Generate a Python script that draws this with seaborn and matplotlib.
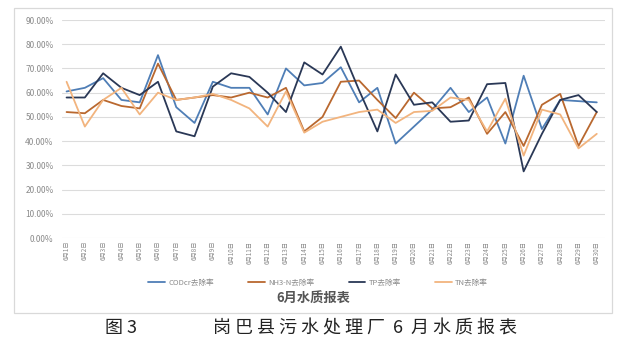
import matplotlib
matplotlib.use("Agg")
import matplotlib.pyplot as plt
import seaborn as sns
import pandas as pd
import numpy as np

days = [f"6月{i}日" for i in range(1, 31)]

cod = [60.5, 62, 66, 57, 56, 75.5, 54, 47.5, 64.5, 62, 62, 51, 70, 63, 64, 70.5, 56, 62, 39, 46, 53, 62, 52, 58, 39, 67, 45, 57, 56.5, 56]
nh3 = [52, 51.5, 57, 54.5, 53.5, 72, 57, 58, 59, 58, 60, 58, 62, 44, 50, 64.5, 65, 57, 49.5, 60, 53.5, 54, 58, 43, 52, 38, 55, 59.5, 38, 52]
tp = [58, 58, 68, 62, 59, 64.5, 44, 42, 62.5, 68, 66.5, 60, 52, 72.5, 67.5, 79, 61, 44, 67.5, 55, 56, 48, 48.5, 63.5, 64, 27.5, 43, 57, 59, 52]
tn = [64.5, 46, 57, 62, 51, 60, 57, 58, 59.5, 57, 53.5, 46, 60.5, 43.5, 48, 50, 52, 53, 47.5, 52, 52.5, 58, 57, 44, 57.5, 34, 53, 51, 37, 43]

series_names = ["CODcr去除率", "NH3-N去除率", "TP去除率", "TN去除率"]
colors = ["#4F7EB6", "#B9682F", "#2A3856", "#F2B47E"]
yticks = [0, 10, 20, 30, 40, 50, 60, 70, 80, 90]

df = pd.concat([
    pd.DataFrame({"day": np.arange(30), "label": days, "value": vals, "series": name})
    for name, vals in zip(series_names, [cod, nh3, tp, tn])
], ignore_index=True)

sns.set_theme(style="white")
plt.rcParams["font.family"] = ["Noto Sans CJK SC", "DejaVu Sans"]

fig = plt.figure(figsize=(6.21, 3.54), dpi=100)
ax = fig.add_axes([62/621, 1-238/354, (605-62)/621, (238-20)/354])

sns.lineplot(data=df, x="day", y="value", hue="series", hue_order=series_names,
             palette=colors, sort=False, linewidth=1.3, ax=ax, legend=True)

ax.set_xlim(-0.25, 29.45)
ax.set_ylim(0, 90)
ax.set_yticks(yticks)
ax.set_yticklabels([f"{v:.2f}%" for v in yticks], fontsize=6, color="#8a8a8a")
ax.set_xticks(np.arange(30))
ax.set_xticklabels(days, rotation=90, fontsize=4.5, color="#8a8a8a")
ax.tick_params(axis="both", length=0, pad=2)
ax.tick_params(axis="y", pad=6)
for yv in yticks:
    ax.axhline(yv, color="#dcdcdc", lw=0.8, zorder=0)
for s in ax.spines.values():
    s.set_visible(False)
ax.set_xlabel("")
ax.set_ylabel("")

h, l = ax.get_legend_handles_labels()
ax.legend_.remove()
leg = fig.legend(h, l, loc="center", bbox_to_anchor=(318/621, 1-282.5/354), ncol=4,
                 frameon=False, fontsize=5.5, handlelength=2.2, columnspacing=4.5,
                 handletextpad=0.4)
for t in leg.get_texts():
    t.set_color("#8a8a8a")

fig.text(313/621, 1-299/354, "6月水质报表", ha="center", va="center",
         fontsize=9.5, fontweight="bold", color="#555555")

# chart frame
frame = plt.Rectangle((14/621, 1-313/354), (612-14)/621, (313-8)/354,
                      transform=fig.transFigure, fill=False, edgecolor="#d9d9d9", lw=0.9)
fig.add_artist(frame)

fig.text(105/621, 1-328/354, "图 3", ha="left", va="center",
         fontsize=13, color="#222222")
fig.text(517/621, 1-328/354, "岗 巴 县 污 水 处 理 厂  6  月 水 质 报 表", ha="right", va="center",
         fontsize=13, color="#222222")

fig.savefig("out.png", dpi=100)
